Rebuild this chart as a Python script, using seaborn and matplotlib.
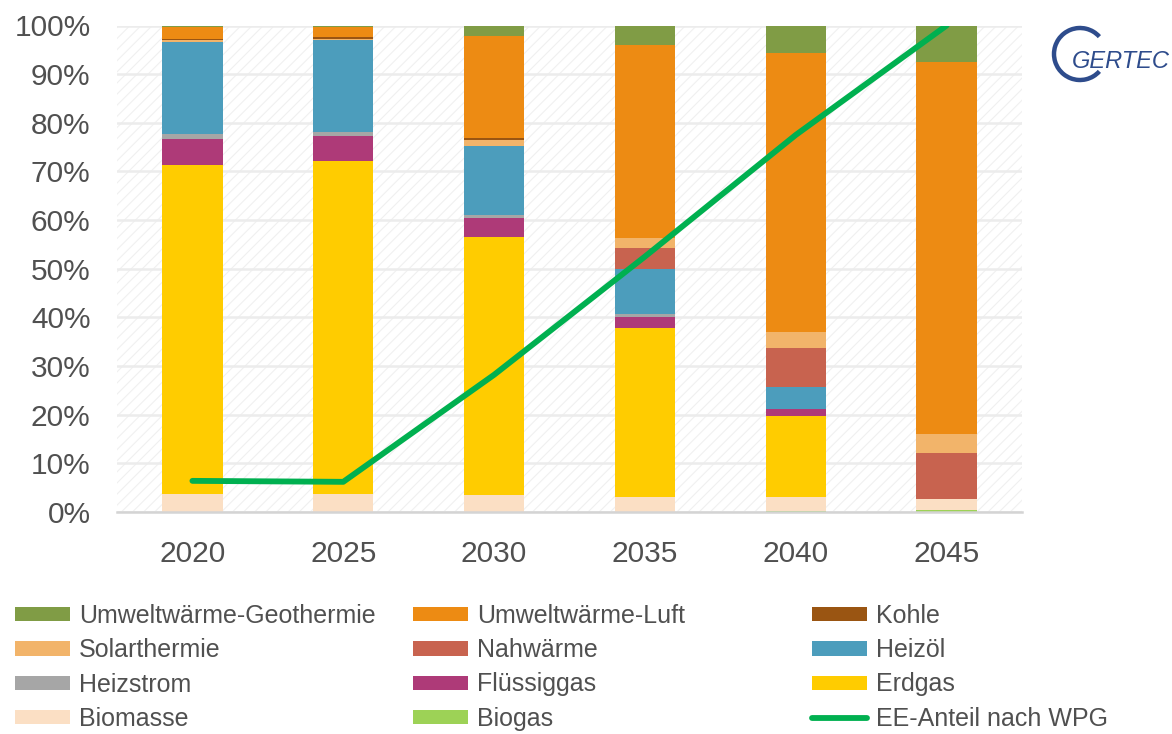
import numpy as np
import matplotlib
matplotlib.use("Agg")
import matplotlib.pyplot as plt
import seaborn as sns
from matplotlib.patches import Patch, Arc, Rectangle
from matplotlib.lines import Line2D

# Years on the x axis
years = ["2020", "2025", "2030", "2035", "2040", "2045"]

# Shares of heat supply per energy carrier (percent), bottom to top of stack
biogas      = [0.0, 0.0, 0.0, 0.0, 0.3, 0.35]
biomasse    = [3.6, 3.6, 3.4, 3.0, 2.8, 2.35]
erdgas      = [67.7, 68.6, 53.1, 34.8, 16.6, 0.0]
fluessiggas = [5.4, 5.1, 3.9, 2.3, 1.5, 0.0]
heizstrom   = [0.9, 0.9, 0.6, 0.6, 0.0, 0.0]
heizoel     = [19.1, 18.8, 14.2, 9.2, 4.4, 0.0]
nahwaerme   = [0.0, 0.0, 0.0, 4.4, 8.2, 9.4]
solarthermie = [0.3, 0.2, 1.3, 2.1, 3.1, 3.9]
kohle       = [0.3, 0.5, 0.3, 0.0, 0.0, 0.0]
luft        = [2.4, 2.0, 21.1, 39.6, 57.4, 76.4]
geothermie  = [0.3, 0.3, 2.1, 4.0, 5.7, 7.6]

# Renewable share according to WPG (percent)
ee_anteil = [6.4, 6.2, 28.2, 52.5, 77.5, 100.0]

y_ticks = list(range(0, 101, 10))

layers = [
    ("Biogas", biogas, "#9DD256"),
    ("Biomasse", biomasse, "#FBDFC4"),
    ("Erdgas", erdgas, "#FFCC00"),
    ("Flüssiggas", fluessiggas, "#AE3A78"),
    ("Heizstrom", heizstrom, "#A6A6A6"),
    ("Heizöl", heizoel, "#4C9DBC"),
    ("Nahwärme", nahwaerme, "#C8634F"),
    ("Solarthermie", solarthermie, "#F2B46A"),
    ("Kohle", kohle, "#9A5512"),
    ("Umweltwärme-Luft", luft, "#ED8B13"),
    ("Umweltwärme-Geothermie", geothermie, "#809C45"),
]
colors = {name: c for name, _, c in layers}
line_color = "#00B050"
text_color = "#505050"

sns.set_theme(style="white")
plt.rcParams["font.family"] = ["Liberation Sans", "DejaVu Sans"]
plt.rcParams["hatch.linewidth"] = 0.8

fig = plt.figure(figsize=(11.72, 7.34), dpi=100)
ax = fig.add_axes([117 / 1172, 1 - 512 / 734, (1022 - 117) / 1172, (512 - 25.5) / 734])

# Faint diagonal hatch behind the plotting area
ax.add_patch(Rectangle((0, 0), 1, 1, transform=ax.transAxes, facecolor="white",
                       edgecolor="#f0f0f0", hatch="///", linewidth=0, zorder=0))

# Stacked bars: draw cumulative totals from the top layer down
cum = np.cumsum(np.array([vals for _, vals, _ in layers]), axis=0)
for i in range(len(layers) - 1, -1, -1):
    name, _, col = layers[i]
    sns.barplot(x=years, y=cum[i], order=years, color=col, saturation=1,
                width=0.4, linewidth=0, errorbar=None, ax=ax, zorder=2)

sns.lineplot(x=np.arange(len(years)), y=ee_anteil, ax=ax, color=line_color,
             linewidth=4.2, solid_capstyle="round", zorder=4)

ax.set_xlim(-0.5, len(years) - 0.5)
ax.set_ylim(0, 100)
ax.set_yticks(y_ticks)
ax.set_yticklabels([f"{t}%" for t in y_ticks])
ax.set_xlabel("")
ax.set_ylabel("")
ax.set_axisbelow(True)
ax.yaxis.grid(True, color="#ececec", linewidth=1.8, zorder=1)
ax.xaxis.grid(False)
for side in ("left", "right", "top"):
    ax.spines[side].set_visible(False)
ax.spines["bottom"].set_color("#d4d4d4")
ax.spines["bottom"].set_linewidth(1.8)
ax.spines["bottom"].set_zorder(5)

ax.tick_params(axis="y", length=0, pad=19, labelsize=21.5, labelcolor=text_color)
ax.tick_params(axis="x", which="major", length=0, pad=20, labelsize=21.5, labelcolor=text_color)
ax.set_xticks(np.arange(-0.5, len(years), 1.0), minor=True)
ax.tick_params(axis="x", which="minor", length=8, width=1.8, color="#d4d4d4", direction="out")

# Legend in three columns
def patch(name):
    return Patch(facecolor=colors[name], edgecolor="none", label=name)

columns = [
    [patch("Umweltwärme-Geothermie"), patch("Solarthermie"), patch("Heizstrom"), patch("Biomasse")],
    [patch("Umweltwärme-Luft"), patch("Nahwärme"), patch("Flüssiggas"), patch("Biogas")],
    [patch("Kohle"), patch("Heizöl"), patch("Erdgas"),
     Line2D([0], [0], color=line_color, linewidth=4.2, solid_capstyle="round",
            label="EE-Anteil nach WPG")],
]
col_x = [15, 413, 812]
for xpx, handles in zip(col_x, columns):
    fig.legend(handles=handles, loc="upper left",
               bbox_to_anchor=(xpx / 1172, 1 - 604 / 734), frameon=False,
               fontsize=18, handlelength=2.2, handleheight=0.5, handletextpad=0.35,
               labelspacing=0.41, borderpad=0, borderaxespad=0, labelcolor=text_color)

# GERTEC logo
logo_color = "#2E4C8C"
fig.add_artist(Arc((1080 / 1172, 1 - 54 / 734), 52 / 1172, 52 / 734, theta1=55, theta2=305,
                   transform=fig.transFigure, color=logo_color, linewidth=3.2))
fig.text(1072 / 1172, 1 - 61 / 734, "GERTEC", fontsize=17, style="italic",
         color=logo_color, va="center", ha="left")

fig.savefig("out.png", dpi=100)
